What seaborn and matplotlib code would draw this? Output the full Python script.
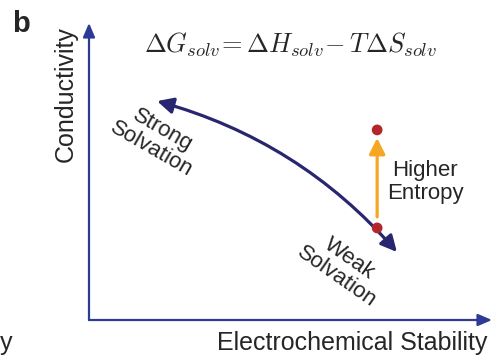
import matplotlib
matplotlib.use("Agg")
from matplotlib import pyplot as plt
from matplotlib.patches import FancyArrowPatch
import seaborn as sns
import pandas as pd

# schematic coordinates (stability on x, conductivity on y, both 0..10)
curve_ends_x = [1.69, 7.64]      # strong solvation end -> weak solvation end
curve_ends_y = [7.37, 2.29]
state_x = [7.15, 7.15]           # red dots: weak solvation, higher entropy
state_y = [3.10, 6.40]
entropy_arrow_y = [3.47, 6.13]

sns.set_theme(style="white")
plt.rcParams['font.family'] = ['Liberation Sans', 'DejaVu Sans']
plt.rcParams['mathtext.fontset'] = 'cm'

axis_blue = '#2D3A96'
curve_navy = '#28266E'
dot_red = '#B3262C'
arrow_orange = '#F6A625'

fig = plt.figure(figsize=(4.94, 3.56), dpi=100)
ax = fig.add_axes([89/494, 36/356, 403/494, 297/356])
ax.set_xlim(0, 10)
ax.set_ylim(0, 10)
ax.axis('off')

# axes as arrows
ax.annotate('', xy=(10, 0), xytext=(0, 0),
            arrowprops=dict(arrowstyle='-|>,head_length=0.7,head_width=0.3',
                            color=axis_blue, lw=1.6, mutation_scale=12,
                            shrinkA=0, shrinkB=0), annotation_clip=False)
ax.annotate('', xy=(0, 10), xytext=(0, 0),
            arrowprops=dict(arrowstyle='-|>,head_length=0.7,head_width=0.3',
                            color=axis_blue, lw=1.6, mutation_scale=12,
                            shrinkA=0, shrinkB=0), annotation_clip=False)

# solvation curve
arc = FancyArrowPatch((curve_ends_x[0], curve_ends_y[0]), (curve_ends_x[1], curve_ends_y[1]),
                      connectionstyle='arc3,rad=-0.15',
                      arrowstyle='<|-|>,head_length=0.8,head_width=0.4',
                      mutation_scale=12, color=curve_navy, lw=2.3,
                      shrinkA=0, shrinkB=0)
ax.add_patch(arc)

# higher entropy arrow
ax.annotate('', xy=(state_x[0], entropy_arrow_y[1]), xytext=(state_x[0], entropy_arrow_y[0]),
            arrowprops=dict(arrowstyle='-|>,head_length=0.8,head_width=0.4',
                            color=arrow_orange, lw=2.3, mutation_scale=12,
                            shrinkA=0, shrinkB=0))

dots = pd.DataFrame({'x': state_x, 'y': state_y})
sns.scatterplot(data=dots, x='x', y='y', color=dot_red, s=60, edgecolor='none',
                zorder=5, ax=ax)

# labels
ax.text(-0.57, 7.61, 'Conductivity', rotation=90, ha='center', va='center', fontsize=18)
ax.text(6.54, -0.77, 'Electrochemical Stability', ha='center', va='center', fontsize=18)
ax.text(5.01, 9.26, r'$\Delta G_{solv}\!= \Delta H_{solv}\!- T\Delta S_{solv}$',
        ha='center', va='center', fontsize=19)
ax.text(8.34, 4.65, 'Higher\nEntropy', ha='center', va='center', fontsize=16,
        linespacing=1.1)
ax.text(1.69, 6.06, 'Strong\nSolvation', ha='center', va='center', fontsize=16,
        rotation=-30, rotation_mode='anchor', linespacing=1.05)
ax.text(6.30, 1.75, 'Weak\nSolvation', ha='center', va='center', fontsize=16,
        rotation=-35, rotation_mode='anchor', linespacing=1.05)

fig.text(12/494, 1 - 10/356, 'b', fontsize=21, fontweight='bold', va='top', ha='left')
fig.text(0, 1 - 343/356, 'y', fontsize=18, va='center', ha='left')

fig.savefig('out.png', dpi=100)
